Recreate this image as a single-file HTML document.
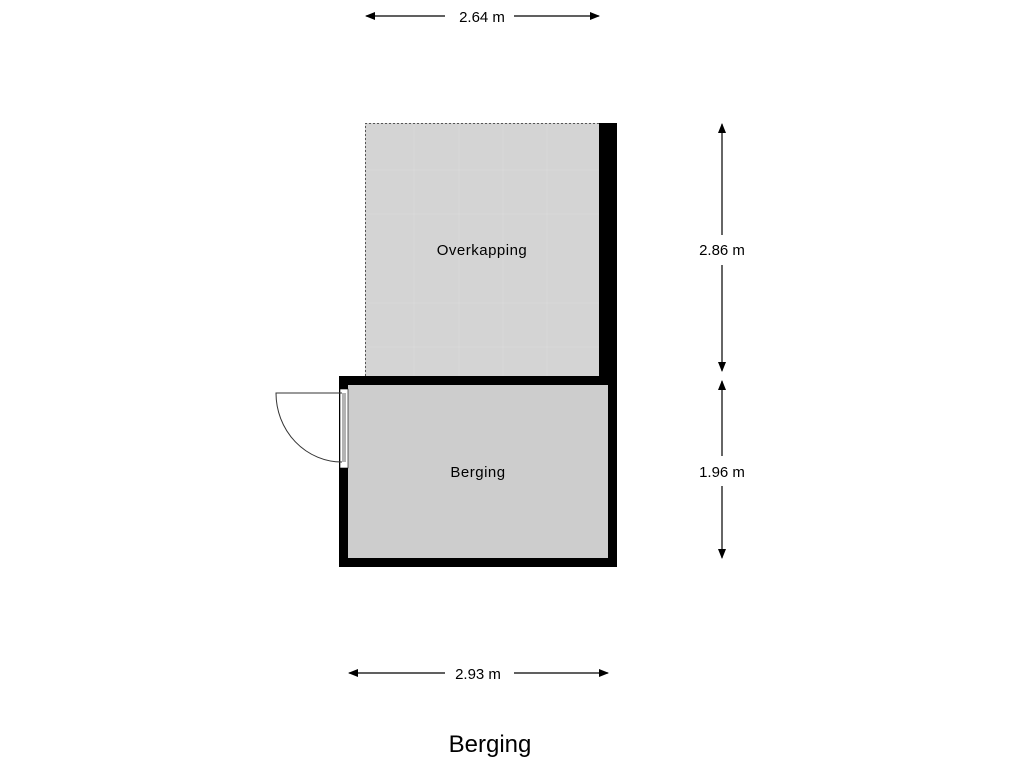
<!DOCTYPE html>
<html><head><style>body{margin:0;background:#fff}</style></head><body>
<svg width="1024" height="768" xmlns="http://www.w3.org/2000/svg" font-family="Liberation Sans, sans-serif">
<defs><marker id="a" markerWidth="10" markerHeight="8" refX="9" refY="4" orient="auto" markerUnits="userSpaceOnUse"><path d="M0,0 L10,4 L0,8z" fill="#000"/></marker></defs>
<rect x="365" y="123" width="234" height="253" fill="#d4d4d4"/>
<g stroke="#d9d9d9" stroke-width="1">
<line x1="414" y1="123" x2="414" y2="376"/><line x1="459" y1="123" x2="459" y2="376"/><line x1="503" y1="123" x2="503" y2="376"/><line x1="547" y1="123" x2="547" y2="376"/>
<line x1="365" y1="170" x2="599" y2="170"/><line x1="365" y1="214" x2="599" y2="214"/><line x1="365" y1="303" x2="599" y2="303"/><line x1="365" y1="347" x2="599" y2="347"/>
</g>
<path d="M365.5,376 V123.5 H599" fill="none" stroke="#555" stroke-width="1" stroke-dasharray="2,2"/>
<rect x="339" y="376" width="278" height="191" fill="#000"/>
<rect x="599" y="123" width="18" height="260" fill="#000"/>
<rect x="348" y="385" width="260" height="173" fill="#cdcdcd"/>
<rect x="340" y="389" width="8" height="79" fill="#fff" stroke="#000" stroke-width="0.6"/>
<line x1="343" y1="393" x2="343" y2="462" stroke="#000" stroke-width="0.6"/><line x1="345" y1="393" x2="345" y2="462" stroke="#000" stroke-width="0.6"/>
<path d="M342,393 H276 A66,69 0 0 0 342,462" fill="none" stroke="#333" stroke-width="1"/>
<text x="482" y="255" font-size="15" text-anchor="middle" letter-spacing="0.5">Overkapping</text>
<text x="478" y="477" font-size="15" text-anchor="middle" letter-spacing="0.5">Berging</text>
<g stroke="#000" stroke-width="1.2" marker-end="url(#a)">
<line x1="445" y1="16" x2="366" y2="16"/><line x1="514" y1="16" x2="599" y2="16"/>
<line x1="445" y1="673" x2="349" y2="673"/><line x1="514" y1="673" x2="608" y2="673"/>
<line x1="722" y1="235" x2="722" y2="124"/><line x1="722" y1="265" x2="722" y2="371"/>
<line x1="722" y1="456" x2="722" y2="381"/><line x1="722" y1="486" x2="722" y2="558"/>
</g>
<g font-size="15" text-anchor="middle">
<text x="482" y="22">2.64 m</text><text x="478" y="679">2.93 m</text>
<text x="722" y="255">2.86 m</text><text x="722" y="477">1.96 m</text>
</g>
<text x="490" y="752" font-size="24" text-anchor="middle">Berging</text>
</svg>
</body></html>
